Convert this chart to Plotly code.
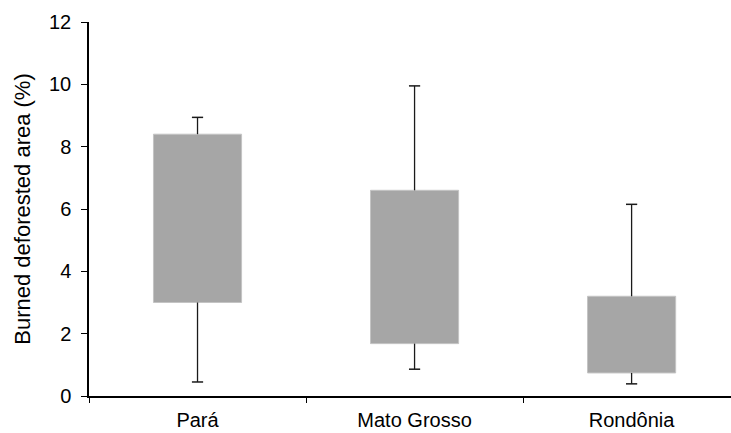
import plotly.graph_objects as go

# Burned share of deforested area by state (%)
states = ["Pará", "Mato Grosso", "Rondônia"]
whisker_low = [0.45, 0.86, 0.39]
box_low = [3.00, 1.68, 0.74]
box_high = [8.40, 6.60, 3.20]
whisker_high = [8.94, 9.95, 6.15]

y_ticks = [0, 2, 4, 6, 8, 10, 12]

box_color = "#a6a6a6"
ink = "#1a1a1a"
font_family = "Liberation Sans, Arial, sans-serif"

fig = go.Figure()

# Boxes: interquartile range as floating bars
fig.add_trace(go.Bar(
    x=states,
    y=[h - l for h, l in zip(box_high, box_low)],
    base=box_low,
    width=0.406,
    marker=dict(color=box_color, line=dict(color="#c4c4c4", width=1)),
    showlegend=False,
    hoverinfo="skip",
))

# Whiskers from the box edges out to the extremes
wx, wy = [], []
for s, lo, q1, q3, hi in zip(states, whisker_low, box_low, box_high, whisker_high):
    wx += [s, s, None, s, s, None]
    wy += [q3, hi, None, lo, q1, None]
fig.add_trace(go.Scatter(
    x=wx, y=wy, mode="lines",
    line=dict(color=ink, width=1.3),
    showlegend=False, hoverinfo="skip",
))

# Whisker end caps
fig.add_trace(go.Scatter(
    x=states + states,
    y=whisker_high + whisker_low,
    mode="markers",
    marker=dict(symbol="line-ew", size=8, line=dict(color=ink, width=1.5)),
    showlegend=False, hoverinfo="skip",
))

fig.update_layout(
    width=731, height=433,
    margin=dict(l=89, r=0, t=22, b=37),
    paper_bgcolor="white",
    plot_bgcolor="white",
    font=dict(family=font_family, color="#000000"),
    xaxis=dict(
        type="category",
        range=[-0.5, 2.458],
        showline=True, linecolor="#000000", linewidth=1.5,
        ticks="outside", ticklen=5, tickwidth=1.2, tickcolor="#000000",
        tickson="boundaries",
        ticklabelstandoff=5,
        showgrid=False, zeroline=False,
        tickfont=dict(size=20, family=font_family, color="#000000"),
    ),
    yaxis=dict(
        range=[0, 12],
        tickvals=y_ticks,
        ticktext=[str(v) for v in y_ticks],
        showline=True, linecolor="#000000", linewidth=1.5,
        ticks="outside", ticklen=6, tickwidth=1.2, tickcolor="#000000",
        ticklabelstandoff=6,
        showgrid=False, zeroline=False,
        tickfont=dict(size=20, family=font_family, color="#000000"),
        title=dict(text="Burned deforested area (%)",
                   font=dict(size=22, family=font_family, color="#000000"),
                   standoff=12),
    ),
)

fig.write_html("out.html")
